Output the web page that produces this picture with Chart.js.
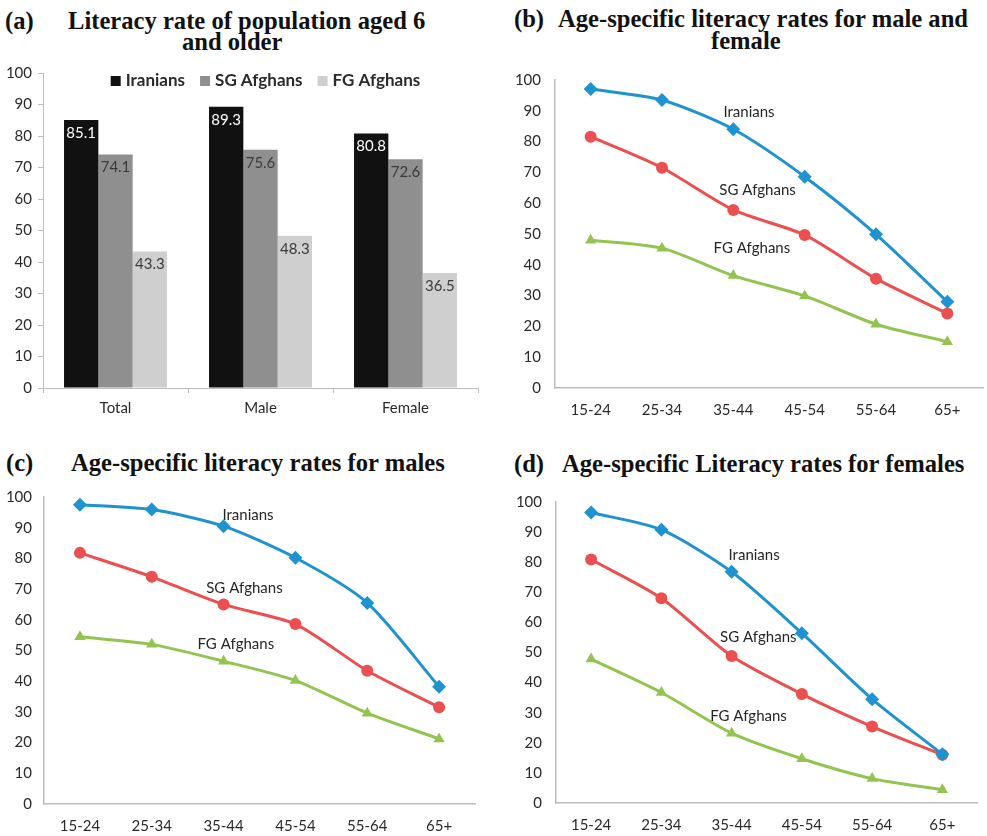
<!DOCTYPE html>
<html>
<head>
<meta charset="utf-8">
<script src="https://cdn.jsdelivr.net/npm/chart.js@4.4.1/dist/chart.umd.min.js"></script>
<style>
  html, body { margin: 0; padding: 0; background: #fff; overflow: hidden; }
  body { width: 987px; height: 836px; position: relative; }
  .title {
    position: absolute; white-space: nowrap;
    font-family: "Liberation Serif", "Times New Roman", serif;
    font-weight: bold; font-size: 24.6px; line-height: 24px; color: #111;
  }
  canvas { position: absolute; }
</style>
</head>
<body>
<div class="title" style="left:5px;top:9px">(a)</div>
<div class="title" style="left:68px;top:9px">Literacy rate of population aged 6</div>
<div class="title" style="left:182px;top:30px">and older</div>

<div class="title" style="left:514px;top:7px">(b)</div>
<div class="title" style="left:558px;top:7px">Age-specific literacy rates for male and</div>
<div class="title" style="left:711px;top:29px">female</div>

<div class="title" style="left:6px;top:451px">(c)</div>
<div class="title" style="left:71px;top:451px">Age-specific literacy rates for males</div>

<div class="title" style="left:514px;top:452px">(d)</div>
<div class="title" style="left:562px;top:452px">Age-specific Literacy rates for females</div>

<canvas id="panelA" style="left:0;top:0" width="490" height="420"></canvas>
<canvas id="panelB" style="left:490px;top:0" width="500" height="420"></canvas>
<canvas id="panelC" style="left:0;top:420px" width="490" height="416"></canvas>
<canvas id="panelD" style="left:490px;top:420px" width="497" height="416"></canvas>

<script>
// ---- data ----
const seriesNames = ['Iranians', 'SG Afghans', 'FG Afghans'];
const sexGroups = ['Total', 'Male', 'Female'];
const ageGroups = ['15-24', '25-34', '35-44', '45-54', '55-64', '65+'];

// literacy rate, population aged 6 and older (%)
const overallIranians = [85.1, 89.3, 80.8];
const overallSG = [74.1, 75.6, 72.6];
const overallFG = [43.3, 48.3, 36.5];

// age-specific, male and female (%)
const bothIranians = [97.1, 93.5, 84.0, 68.6, 49.9, 28.0];
const bothSG = [81.6, 71.5, 57.8, 49.7, 35.5, 24.2];
const bothFG = [48.0, 45.4, 36.5, 29.9, 20.7, 15.0];

// age-specific, males (%)
const maleIranians = [97.5, 95.9, 90.5, 80.2, 65.5, 38.2];
const maleSG = [81.8, 74.0, 65.0, 58.6, 43.4, 31.5];
const maleFG = [54.5, 52.0, 46.5, 40.2, 29.6, 21.2];

// age-specific, females (%)
const femaleIranians = [96.5, 90.8, 76.8, 56.4, 34.5, 16.2];
const femaleSG = [80.9, 68.0, 48.8, 36.2, 25.4, 16.0];
const femaleFG = [47.8, 36.7, 23.2, 14.7, 8.1, 4.4];

const yMin = 0, yMax = 100, yStep = 10;

// where the series names sit inside each line panel, as [category index, value]
const bothNoteAt = [[2.22, 89.7], [2.34, 64.3], [2.26, 45.4]];
const maleNoteAt = [[2.34, 94.0], [2.29, 70.2], [2.17, 52.1]];
const femaleNoteAt = [[2.32, 82.3], [2.38, 55.0], [2.24, 28.9]];

// ---- styling ----
Chart.defaults.font.family = 'Lato, "Open Sans", sans-serif';
Chart.defaults.font.size = 15;
Chart.defaults.color = '#2a2a2a';
Chart.defaults.animation = false;
Chart.defaults.responsive = false;
Chart.defaults.devicePixelRatio = 1;

const AXIS_GREY = '#bdbdbd';
const barColors = ['#111111', '#8f8f8f', '#cfcfcf'];
const barLabelColors = ['#ffffff', '#3a3a3a', '#3a3a3a'];
const lineColors = ['#1e93cf', '#eb4f4f', '#93c450'];
const pointShapes = ['rectRot', 'circle', 'triangle'];
const pointSizes = [7, 6, 6.5];

// value labels just inside the top of each bar
const barValueLabels = {
  id: 'barValueLabels',
  afterDatasetsDraw(chart) {
    const ctx = chart.ctx;
    ctx.save();
    ctx.font = '15px Lato, "Open Sans", sans-serif';
    ctx.textAlign = 'center';
    ctx.textBaseline = 'middle';
    chart.data.datasets.forEach((ds, di) => {
      chart.getDatasetMeta(di).data.forEach((bar, i) => {
        ctx.fillStyle = barLabelColors[di];
        ctx.fillText(ds.data[i].toFixed(1), bar.x, bar.y + 13);
      });
    });
    ctx.restore();
  }
};

// one-row legend drawn across the top of the plot area
const insetLegend = {
  id: 'insetLegend',
  afterDraw(chart) {
    const ctx = chart.ctx, area = chart.chartArea;
    const box = 10, gap = 5, spacing = 15;
    ctx.save();
    ctx.font = 'bold 17px Lato, "Open Sans", sans-serif';
    ctx.textBaseline = 'middle';
    ctx.textAlign = 'left';
    const items = chart.data.datasets.map(ds => ({
      text: ds.label, color: ds.backgroundColor, w: ctx.measureText(ds.label).width
    }));
    const total = items.reduce((s, it) => s + box + gap + it.w, 0) + spacing * (items.length - 1);
    let x = (area.left + area.right) / 2 + 5 - total / 2;
    const cy = area.top + 8;
    items.forEach(it => {
      ctx.fillStyle = it.color;
      ctx.fillRect(x, cy - box / 2, box, box);
      x += box + gap;
      ctx.fillStyle = '#2a2a2a';
      ctx.fillText(it.text, x, cy);
      x += it.w + spacing;
    });
    ctx.restore();
  }
};

// series names written next to the lines
const seriesNotes = {
  id: 'seriesNotes',
  afterDatasetsDraw(chart, args, opts) {
    const ctx = chart.ctx;
    const xs = chart.scales.x, ys = chart.scales.y;
    ctx.save();
    ctx.font = '15px Lato, "Open Sans", sans-serif';
    ctx.fillStyle = '#262626';
    ctx.textAlign = 'center';
    ctx.textBaseline = 'middle';
    opts.spots.forEach((p, i) => {
      ctx.fillText(seriesNames[i], xs.getPixelForValue(p[0]), ys.getPixelForValue(p[1]));
    });
    ctx.restore();
  }
};

function fixedWidth(w) { return (scale) => { scale.width = w; }; }
function fixedHeight(h) { return (scale) => { scale.height = h; }; }

// ---- (a) grouped bars ----
new Chart(document.getElementById('panelA'), {
  type: 'bar',
  data: {
    labels: sexGroups,
    datasets: [overallIranians, overallSG, overallFG].map((d, i) => ({
      label: seriesNames[i],
      data: d,
      backgroundColor: barColors[i],
      borderWidth: 0,
      categoryPercentage: 0.71,
      barPercentage: 1.0
    }))
  },
  options: {
    layout: { padding: { left: 0, right: 12, top: 73, bottom: 0 } },
    plugins: {
      legend: { display: false },
      tooltip: { enabled: false }
    },
    scales: {
      x: {
        afterFit: fixedHeight(32),
        grid: { display: true, drawOnChartArea: false, drawTicks: true, tickLength: 5, color: AXIS_GREY, offset: true },
        border: { color: AXIS_GREY, width: 1 },
        ticks: { padding: 6 }
      },
      y: {
        min: yMin, max: yMax,
        afterFit: fixedWidth(43),
        grid: { display: true, drawOnChartArea: false, drawTicks: true, tickLength: 5, color: AXIS_GREY },
        border: { color: AXIS_GREY, width: 1 },
        ticks: { stepSize: yStep, padding: 6 }
      }
    }
  },
  plugins: [barValueLabels, insetLegend]
});

// ---- (b)-(d) line panels ----
function linePanel(id, series, spots, geom) {
  return new Chart(document.getElementById(id), {
    type: 'line',
    data: {
      labels: ageGroups,
      datasets: series.map((d, i) => ({
        label: seriesNames[i],
        data: d,
        borderColor: lineColors[i],
        backgroundColor: lineColors[i],
        borderWidth: 3,
        tension: 0.25,
        pointStyle: pointShapes[i],
        pointRadius: pointSizes[i],
        pointBorderWidth: 0,
        fill: false
      }))
    },
    options: {
      layout: { padding: { left: 0, right: geom.right, top: geom.top, bottom: 0 } },
      plugins: {
        legend: { display: false },
        tooltip: { enabled: false },
        seriesNotes: { spots: spots }
      },
      scales: {
        x: {
          offset: true,
          afterFit: fixedHeight(geom.axisH),
          grid: { display: false, drawTicks: false },
          border: { color: AXIS_GREY, width: 1.5 },
          ticks: { padding: 13 }
        },
        y: {
          min: yMin, max: yMax,
          afterFit: fixedWidth(geom.axisW),
          grid: { display: false, drawTicks: false },
          border: { color: AXIS_GREY, width: 1.5 },
          ticks: { stepSize: yStep, padding: geom.tickPad }
        }
      }
    },
    plugins: [seriesNotes]
  });
}

linePanel('panelB', [bothIranians, bothSG, bothFG], bothNoteAt,
  { top: 80, right: 0, axisH: 32, axisW: 65, tickPad: 14 });
linePanel('panelC', [maleIranians, maleSG, maleFG], maleNoteAt,
  { top: 77, right: 15, axisH: 32, axisW: 44, tickPad: 12 });
linePanel('panelD', [femaleIranians, femaleSG, femaleFG], femaleNoteAt,
  { top: 82, right: 9.5, axisH: 33, axisW: 66, tickPad: 14 });
</script>
</body>
</html>
